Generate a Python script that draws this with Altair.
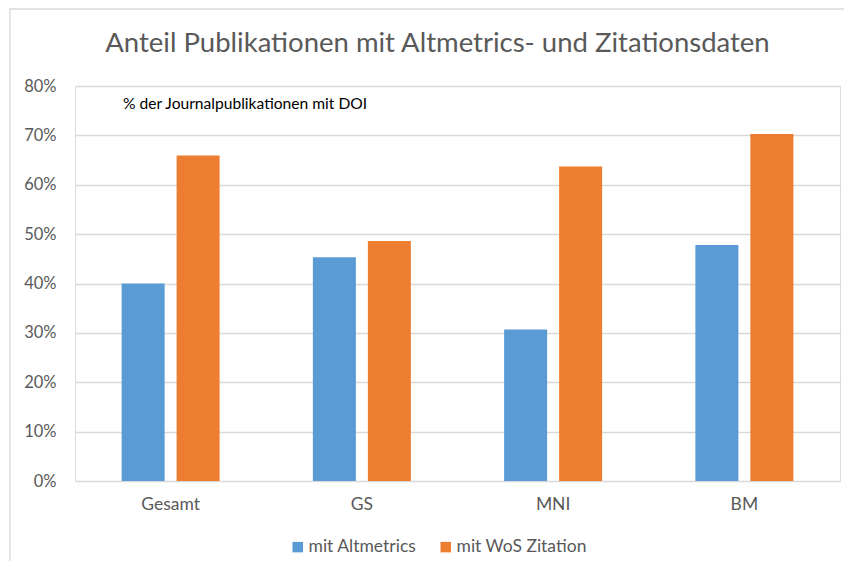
import altair as alt
import pandas as pd

categories = ["Gesamt", "GS", "MNI", "BM"]
series_names = ["mit Altmetrics", "mit WoS Zitation"]
altmetrics = [0.400, 0.453, 0.307, 0.478]
wos_citation = [0.659, 0.486, 0.637, 0.703]
y_ticks = [0.0, 0.1, 0.2, 0.3, 0.4, 0.5, 0.6, 0.7, 0.8]
colors = ["#5B9BD5", "#ED7D31"]
title_text = "Anteil Publikationen mit Altmetrics- und Zitationsdaten"
note_text = "% der Journalpublikationen mit DOI"

rows = []
for i, c in enumerate(categories):
    rows.append({"Kategorie": c, "Serie": series_names[0], "Wert": altmetrics[i]})
    rows.append({"Kategorie": c, "Serie": series_names[1], "Wert": wos_citation[i]})
df = pd.DataFrame(rows)

W, H = 765, 395
FONT = "Lato"
GRAY = "#595959"
LINE = "#d9d9d9"

bars = alt.Chart(df).mark_bar().encode(
    x=alt.X(
        "Kategorie:N",
        sort=categories,
        scale=alt.Scale(paddingInner=0.4876, paddingOuter=0.2438),
        axis=alt.Axis(title=None, labelAngle=0, domain=False, ticks=False,
                      labelPadding=14, labelFontSize=17.5, labelColor=GRAY,
                      labelFont=FONT),
    ),
    xOffset=alt.XOffset("Serie:N", sort=series_names,
                        scale=alt.Scale(paddingInner=0.218, paddingOuter=0)),
    y=alt.Y(
        "Wert:Q",
        scale=alt.Scale(domain=[0, 0.8], nice=False),
        axis=alt.Axis(title=None, format=".0%", values=y_ticks, domain=False,
                      ticks=False, gridColor=LINE, gridWidth=1.3,
                      labelPadding=19, labelFontSize=16.5, labelColor=GRAY,
                      labelFont=FONT),
    ),
    color=alt.Color(
        "Serie:N",
        sort=series_names,
        scale=alt.Scale(domain=series_names, range=colors),
        legend=alt.Legend(title=None, orient="none", legendX=214, legendY=452,
                          direction="horizontal", symbolType="square",
                          symbolSize=110, symbolStrokeWidth=0, labelFontSize=17.5,
                          labelColor=GRAY, labelFont=FONT, labelOffset=2,
                          columnPadding=20),
    ),
)

one = pd.DataFrame({"a": [0]})

note = alt.Chart(one).mark_text(
    align="left", baseline="middle", fontSize=15.6, color="#000000", font=FONT
).encode(x=alt.value(48), y=alt.value(18), text=alt.value(note_text))

frame_v = alt.Chart(one).mark_rule(color=LINE, strokeWidth=1.3).encode(
    x=alt.value(-65), y=alt.value(-78), y2=alt.value(H + 100)
)
frame_h = alt.Chart(one).mark_rule(color=LINE, strokeWidth=1.3).encode(
    x=alt.value(-65), x2=alt.value(W + 30), y=alt.value(-77)
)

chart = alt.layer(frame_v, frame_h, bars, note).properties(
    width=W,
    height=H,
    title=alt.TitleParams(title_text, fontSize=27.5, color=GRAY, font=FONT,
                          fontWeight="normal", anchor="middle", dx=-20,
                          offset=34, dy=106, baseline="alphabetic", frame="group"),
    autosize=alt.AutoSizeParams(type="none"),
    padding={"left": 67, "top": 78, "right": 4, "bottom": 80},
).configure_view(stroke=None).configure(font=FONT)

chart.save("out.html", embed_options={"renderer": "svg", "actions": False})
